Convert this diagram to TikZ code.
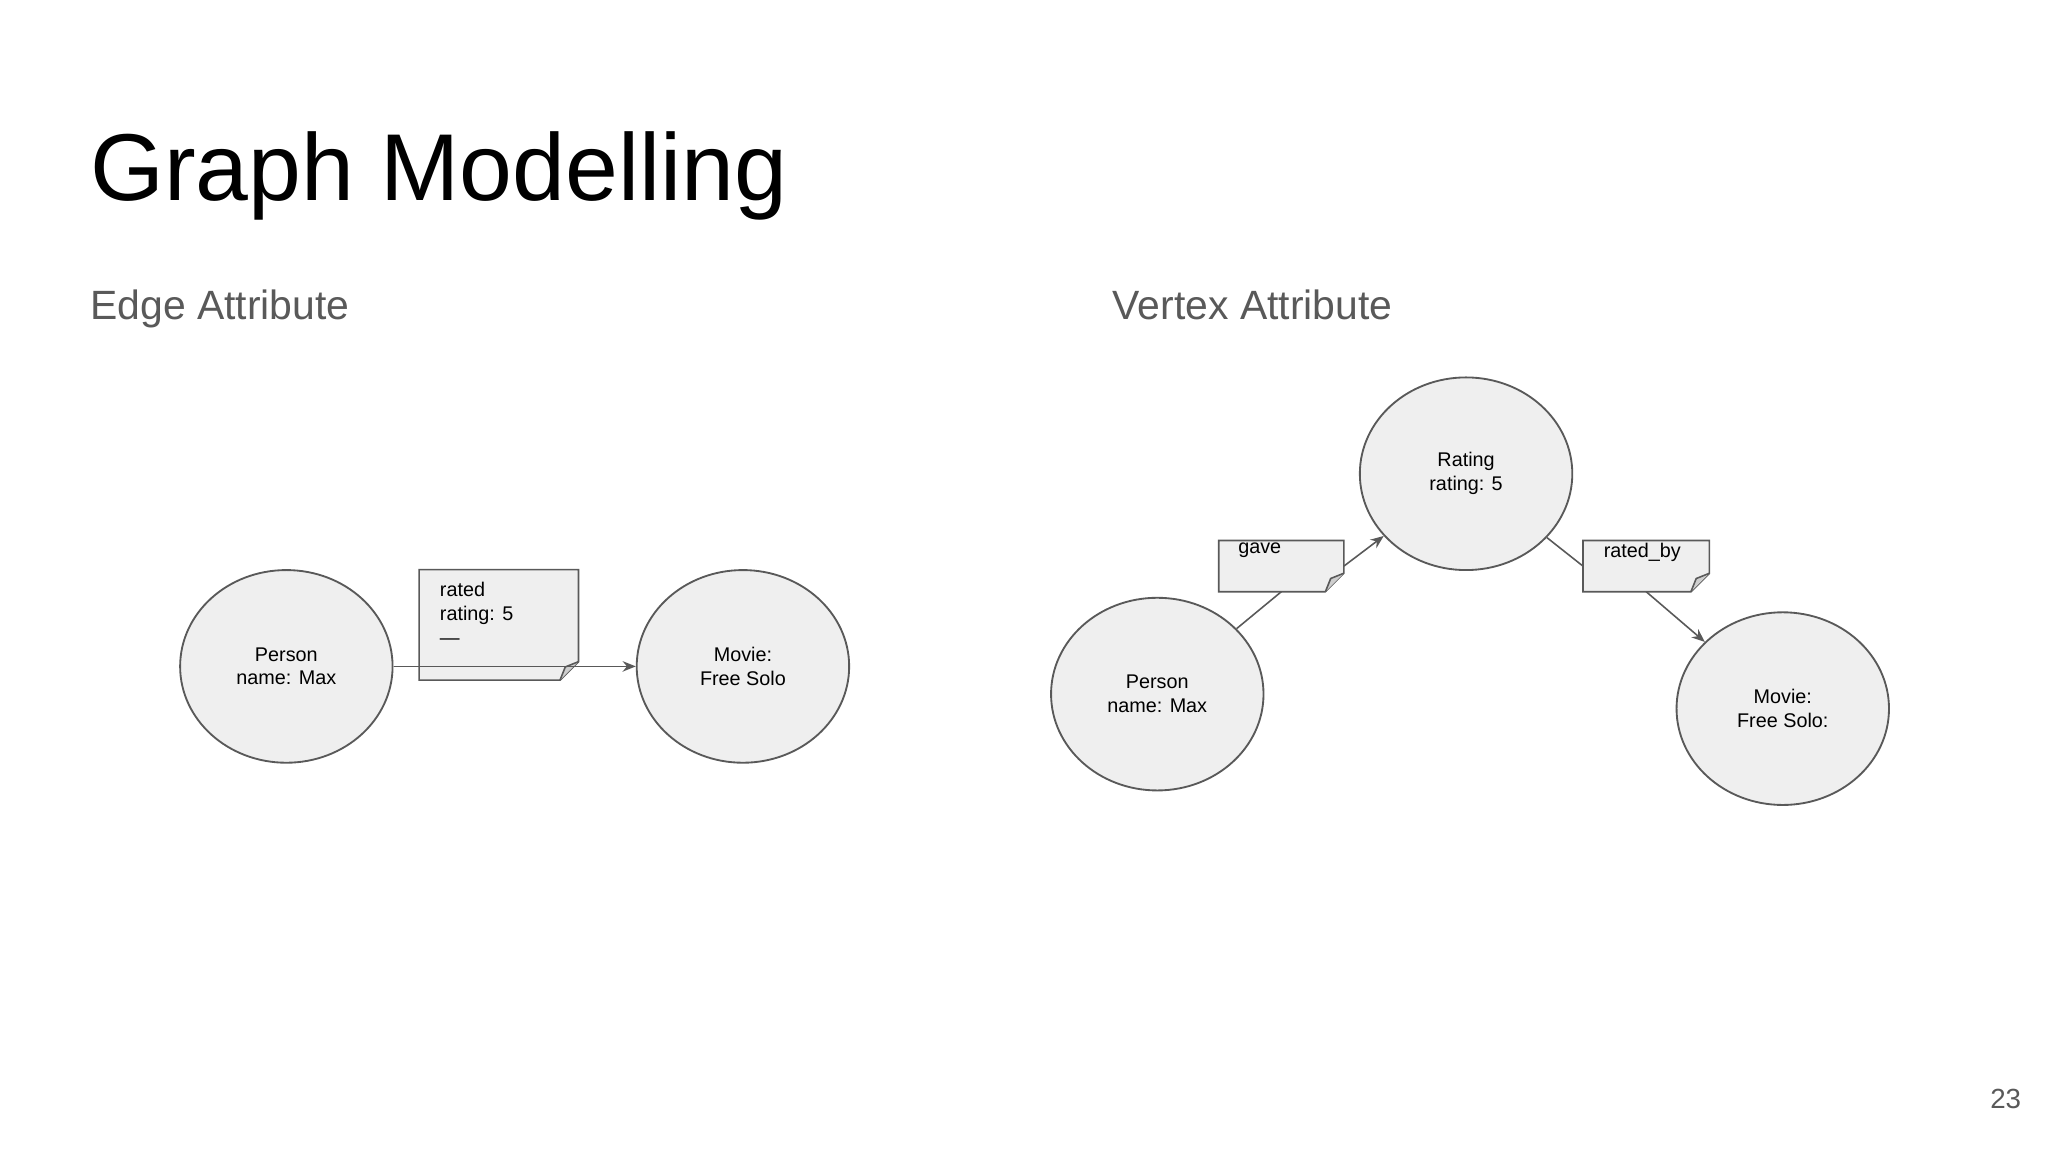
\documentclass[tikz,border=0pt]{standalone}
\usepackage{fontspec}
\setmainfont{Liberation Sans}
\usetikzlibrary{arrows.meta,shapes.geometric}
\definecolor{edge}{HTML}{595959}
\definecolor{nfill}{HTML}{EFEFEF}
\tikzset{
  vert/.style={ellipse, draw=edge, line width=0.7pt, fill=nfill, minimum width=80.5pt, minimum height=73pt, align=center, font=\fontsize{7.5}{9}\selectfont, inner sep=0pt},
  notebox/.style={minimum width=#1, minimum height=19pt, inner sep=0pt},
  conn/.style={draw=edge, line width=0.6pt, -{Stealth[length=5pt,width=4pt]}},
  plain/.style={draw=edge, line width=0.6pt},
  sub/.style={anchor=base west, text=edge, font=\fontsize{15.5}{18}\selectfont, inner sep=0pt},
  notetxt/.style={anchor=north west, align=left, font=\fontsize{7.5}{9}\selectfont, inner sep=0pt}
}
\newcommand{\notepath}[1]{%
  \draw[draw=edge, line width=0.6pt, fill=nfill] (#1.north west) -- (#1.north east) -- ([yshift=7pt]#1.south east) -- ([xshift=-7pt]#1.south east) -- (#1.south west) -- cycle;
  \draw[draw=edge, line width=0.6pt, fill=nfill!70!gray] ([yshift=7pt]#1.south east) -- ([xshift=-5pt,yshift=5pt]#1.south east) -- ([xshift=-7pt]#1.south east);}
\begin{document}
\begin{tikzpicture}[x=0.5pt,y=-0.5pt]
\useasboundingbox (0,0) rectangle (1552,873);
\node[anchor=base west, inner sep=0pt, font=\fontsize{36}{40}\selectfont] (title) at (68,152) {Graph Modelling};
\node[sub] (s1) at (68,242) {Edge Attribute};
\node[sub] (s2) at (843,242) {Vertex Attribute};
\node[anchor=base east, inner sep=0pt, text=edge, font=\fontsize{10.5}{12}\selectfont] (pg) at (1532,840) {23};
% left
\node[notebox=60pt, minimum height=41.5pt] (n1) at (378,473.5) {};
\notepath{n1}
\node[notetxt] (t1) at (333,441) {rated\\rating: 5\\---};
\node[vert] (p1) at (217,505) {Person\\name: Max};
\node[vert] (m1) at (563,505) {Movie:\\Free Solo};
\draw[conn] (p1) -- (m1);
% right
\node[vert] (r2) at (1111,359) {Rating\\rating: 5};
\node[vert] (p2) at (877,526) {Person\\name: Max};
\node[vert] (m2) at (1351,537) {Movie:\\Free Solo:};
\node[notebox=47pt] (g) at (971,429) {};
\node[notebox=47.5pt] (rb) at (1247.5,429) {};
\draw[plain] (p2) -- (g.south);
\draw[conn] (g.east) -- (r2);
\draw[plain] (r2) -- (rb.west);
\draw[conn] (rb.south) -- (m2);
\notepath{g}
\notepath{rb}
\node[notetxt] (tg) at (938,411) {gave};
\node[notetxt] (trb) at (1215,411) {rated\_by};
\end{tikzpicture}
\end{document}
